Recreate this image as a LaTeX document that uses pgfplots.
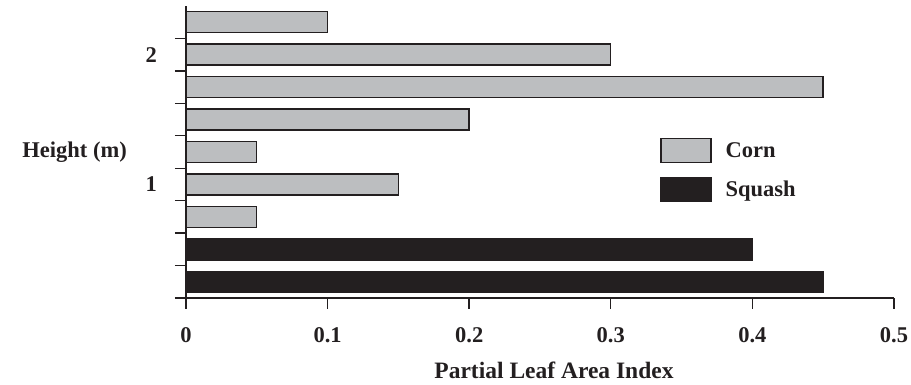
\documentclass[border=0pt]{standalone}
\usepackage{fontspec}
\setmainfont{Liberation Serif}
\usepackage{pgfplots}
\pgfplotsset{compat=1.18}
\definecolor{corn}{HTML}{BCBEC0}
\definecolor{sq}{HTML}{231F20}
\newcommand\F{\fontsize{22.5}{26}\selectfont\bfseries}
\newcommand\T{\fontsize{23.5}{27}\selectfont\bfseries}
\begin{document}
\begin{tikzpicture}
\useasboundingbox (-186pt,-87pt) rectangle (725pt,298pt);
\begin{axis}[
  at={(0,0)}, anchor=south west,
  scale only axis, width=708pt, height=292pt,
  xmin=0, xmax=0.5, ymin=0, ymax=9,
  axis lines*=left,
  axis line style={line width=1.4pt, sq},
  clip=false,
  xbar, bar width=21pt, /pgf/bar shift=0pt,
  xtick={0,0.1,0.2,0.3,0.4,0.5},
  xticklabels={0,0.1,0.2,0.3,0.4,0.5},
  ytick={0,1,...,8},
  yticklabels={},
  extra y ticks={3.5,7.5},
  extra y tick labels={1,2},
  extra y tick style={major tick length=0pt, yticklabel style={inner sep=0pt, anchor=east, xshift=-29pt}},
  tick align=outside,
  major tick length=11pt,
  tick style={line width=1.4pt, sq},
  xticklabel style={inner sep=0pt, anchor=north, yshift=-18pt},
  tick label style={font=\F, text=sq},
  /pgf/number format/assume math mode=true,
  xlabel={Partial Leaf Area Index},
  ylabel={Height (m)},
  every axis x label/.style={at={(axis description cs:0.5,0)}, anchor=north, xshift=14pt, yshift=-64pt, inner sep=0pt, font=\T, text=sq},
  every axis y label/.style={at={(axis description cs:0,0.5)}, anchor=east, xshift=-59pt, inner sep=0pt, font=\F, text=sq},
  legend image code/.code={\draw[#1, line width=1.4pt] (0pt,-12pt) rectangle (50pt,12pt);},
  legend cell align=left,
  legend style={draw=none, fill=none, at={(rel axis cs:0.6695,0.55)}, anchor=north west,
    inner sep=0pt, row sep=13.5pt, font=\F, text=sq,
    nodes={inner sep=0pt, anchor=west},
    /tikz/every odd column/.append style={column sep=14pt}},
]
\addplot[fill=corn, draw=sq, line width=1.4pt] coordinates {
 (0.05,2.5) (0.15,3.5) (0.05,4.5) (0.20,5.5) (0.45,6.5) (0.30,7.5) (0.10,8.5)};
\addlegendentry{Corn}
\addplot[fill=sq, draw=sq, line width=1.4pt] coordinates {
 (0.45,0.5) (0.40,1.5)};
\addlegendentry{Squash}
\end{axis}
\end{tikzpicture}
\end{document}
